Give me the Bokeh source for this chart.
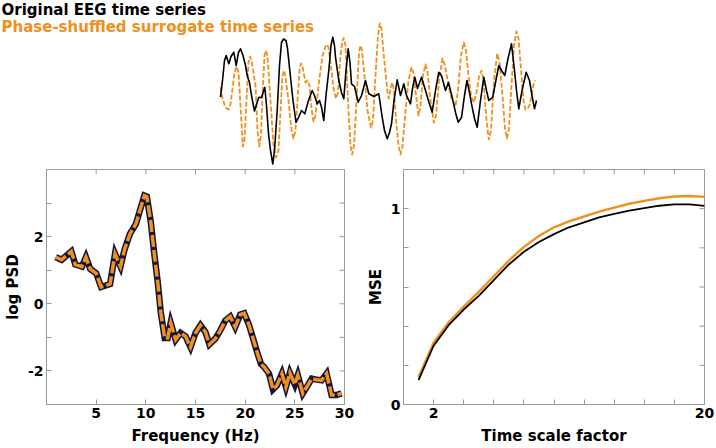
import numpy as np
from bokeh.plotting import figure
from bokeh.layouts import column, row
from bokeh.models import FixedTicker, Range1d
from bokeh.core.properties import value
from bokeh.embed import file_html
from bokeh.resources import INLINE

# ---------------- data ----------------
title_lines = ["Original EEG time series", "Phase-shuffled surrogate time series"]

# original EEG (sample index, amplitude)
eeg_t = [0, 2, 4, 5.7, 8.3, 10.5, 13.3, 15.7, 18, 20, 22.5, 25, 26.7, 29, 31, 34, 36, 38.3, 41,
         44.3, 46, 48, 50, 52.3, 54, 56.7, 59, 61, 63, 65.5, 67, 70, 72.5, 75.5, 78, 81, 84.3,
         88, 91.7, 94, 96.7, 99, 101, 103.3, 105.5, 108.3, 110.5, 112.3, 114, 115, 118.3, 121,
         123.3, 125.5, 127.7, 129.5, 131, 134, 137.7, 141, 145, 148.3, 153.3, 158.3, 161.7, 164,
         166.7, 169, 171, 173.5, 176.7, 180, 183.3, 186, 190, 192, 194.3, 197, 201, 205, 208.5,
         211.7, 215, 218.3, 221, 225, 228, 231.7, 235, 237.7, 241, 244, 246.5, 249, 251, 254,
         256.7, 260, 263.3, 266, 268.3, 272.3, 275, 278.3, 281, 284.3, 287.5, 291, 294, 296,
         298.3, 301.5, 305.7, 309, 311.5, 314, 316]
eeg_v = [-3.7, 13, 33, 38, 29.7, 37, 41.3, 28, 41, 44.7, 38, 28, 18, 11, -2, -17.5, -11, -3.7, -4,
         6.3, -12, -40, -57, -70.5, -57, -17, 28, 51, 54.5, 53, 45, 16.3, -7, -29, -24, -17, -20.3,
         -7, 3, -2, -10.3, -7, -13.7, -27, -2, 23, 48, 56.3, 48, 36.3, 13, 1,
         -5.3, 23, 44.7, 31, 9.7, 7, -8.7, -2, 13, -0.3, -3, -0.3, -23.7, -37,
         -45.3, -39, -30.3, -7, 13.7, -2, 9.7, -2, -10.3, 5, 16.3, 5, 16.3, 3, -9,
         -18.7, 3, 21.3, 18, 3, 11, -3.7, -19, -28.7, -24, -2, 13, 1, -10.3, -25,
         -33.7, -7, 16.3, 3, -7, -3.7, 11, 28, 23, 18, 35, 49.7, 23, 3,
         -15.3, 3, 21.3, 13, -2, -15.3, -7]

# phase-shuffled surrogate (sample index, amplitude)
sur_t = [0, 2, 5, 8, 10, 12, 14, 16, 18, 20, 22.3, 24, 26, 28, 29.5, 31, 33, 35, 37, 38.8, 40.5,
         42, 44, 45.5, 47, 50, 53, 55.5, 58, 60, 62, 63.5, 65, 68, 71, 73, 75, 77, 79, 80.5, 82,
         85, 87, 89, 91, 93, 95, 98, 102, 105, 106.7, 108, 111, 113, 115.5, 117.5, 120, 122,
         123.3, 125, 128, 130, 131.7, 133.5, 136, 138.5, 140, 141.5, 144, 147, 150.5, 152.5,
         155, 157.5, 159.3, 161, 163, 165, 167, 168.3, 170, 171.7, 173.5, 176, 178, 180, 182,
         185, 188, 191, 193, 195.5, 198, 200, 202.5, 205, 207, 210, 213.3, 215.5, 218.5, 222,
         224.5, 228, 231, 235, 237.5, 240.5, 243.3, 245.5, 248, 250.5, 253.3, 256, 258.5, 261,
         263, 266, 268.3, 270.5, 273.5, 276.7, 279, 282, 284.5, 286.5, 288.5, 291, 293.5, 296,
         298, 301, 303, 305, 307, 309, 311, 313, 315]
sur_v = [6.3, -5, -14, -16, -11, 5, 21, 27, 21, -12, -53, -47, -7, 31, 37, 33, 21, 8, -37, -53, -42,
         -2, 38, 43, 37, -7, -52, -64, -57, -17, 18, 23, 17, -7, -37, -45, -37, -7, 23, 30, 27,
         11, 13, 8, -15, -28, -22, 8, 38, 47, 49, 46, 23, 5, -5, 1, 38, 53,
         55.5, 48, -17, -52, -61, -52, -7, 41, 48, 43, 18, -17, -34, -27,
         18, 58, 70, 65, 41, 21, 1, -5, 5, 11, 3, -32, -52, -61, -53,
         -17, 13, 26, 21, -2, -22, -12, 18, 29, 21, -7, -29, -22, 13, 35,
         28, 8, -5, -13, 3, 38, 51, 43, 18, -2, -9, 1, 17, 23,
         13, -27, -46, -37, 13, 40, 31, -2, -35, -45, -35, 8, 48, 62,
         55, 18, -7, -16, -15, -12, -2, 9, 13]

psd_freq = [0.93, 1.52, 2.5, 2.9, 3.57, 3.97, 4.4, 5.0, 5.5, 6.4, 6.9, 7.45, 7.87, 8.4, 9.0, 9.85,
            10.1, 10.5, 10.85, 11.2, 11.5, 11.9, 12.2, 12.5, 13.0, 13.5, 14.0, 14.5, 15.0, 15.5,
            16.0, 16.4, 17.0, 17.5, 18.0, 18.5, 19.0, 19.5, 19.9, 20.4, 20.8, 21.2, 21.6, 21.9,
            22.4, 22.8, 23.2, 23.7, 24.1, 24.5, 25.0, 25.3, 25.8, 26.2, 26.7, 27.2, 27.7, 28.2,
            28.7, 29.2, 29.7]
psd_log = [1.39, 1.31, 1.56, 1.17, 1.11, 1.39, 1.04, 0.91, 0.50, 0.59, 1.49, 1.11, 1.63, 2.08,
           2.38, 3.22, 3.19, 2.43, 1.49, 0.64, -0.25, -1.02, -1.02, -0.57, -1.07, -0.87, -0.97,
           -1.29, -0.87, -0.64, -0.84, -1.21, -1.04, -0.79, -0.50, -0.38, -0.69, -0.32, -0.28,
           -0.64, -1.04, -1.44, -1.80, -1.88, -2.08, -2.55, -2.43, -2.08, -2.48, -2.06, -2.40,
           -2.13, -2.67, -2.48, -2.23, -2.26, -2.28, -2.08, -2.72, -2.72, -2.67]

scale = list(range(1, 21))
mse_orig = [0.125, 0.30, 0.405, 0.485, 0.555, 0.635, 0.715, 0.78, 0.83, 0.87, 0.905, 0.93,
            0.955, 0.973, 0.99, 1.003, 1.015, 1.022, 1.022, 1.014]
mse_surr = [0.14, 0.315, 0.42, 0.50, 0.575, 0.655, 0.735, 0.805, 0.86, 0.905, 0.935, 0.96,
            0.985, 1.005, 1.025, 1.04, 1.053, 1.062, 1.065, 1.06]

psd_xticks = [5, 10, 15, 20, 25, 30]
psd_yticks = [-2, 0, 2]
psd_yminor = [-3, -1, 1, 3]
psd_ylabels = {-2: "-2", 0: "0", 2: "2"}
mse_xticks = [2, 20]
mse_xminor = [4, 6, 8, 10, 12, 14, 16, 18]
mse_yticks = [0, 1]
mse_yminor = [0.2, 0.4, 0.6, 0.8, 1.2]

# ---------------- style ----------------
BLACK = "#000000"
ORANGE = "#f0901e"
NAVY = "#15153a"
FRAME = "#9a9a9a"
FONT = "DejaVu Sans"

W = 716
H = 448
TOP_H = 166
BOT_H = H - TOP_H


def style_axis(ax, label_standoff, title_standoff):
    ax.axis_line_color = FRAME
    ax.major_tick_line_color = FRAME
    ax.minor_tick_line_color = FRAME
    ax.major_tick_in = 5
    ax.major_tick_out = 0
    ax.minor_tick_in = 5
    ax.minor_tick_out = 0
    ax.major_label_text_font = FONT
    ax.major_label_text_font_style = "bold"
    ax.major_label_text_font_size = "14px"
    ax.major_label_text_color = BLACK
    ax.major_label_standoff = label_standoff
    ax.axis_label_text_font = FONT
    ax.axis_label_text_font_style = "bold"
    ax.axis_label_text_font_size = "15px"
    ax.axis_label_text_color = BLACK
    ax.axis_label_standoff = title_standoff


def framed(fig, xt, xm, yt, ym):
    fig.xaxis.ticker = FixedTicker(ticks=xt, minor_ticks=xm)
    fig.yaxis.ticker = FixedTicker(ticks=yt, minor_ticks=ym)
    style_axis(fig.xaxis[0], 3, 6)
    style_axis(fig.yaxis[0], 3, 3)
    fig.xgrid.visible = False
    fig.ygrid.visible = False
    fig.outline_line_color = FRAME
    fig.outline_line_alpha = 1.0
    # inward tick marks on the top and right edges (half of each dash is clipped by the frame)
    xr, yr = fig.x_range, fig.y_range
    top_x = list(xt) + list(xm)
    right_y = list(yt) + list(ym)
    fig.scatter(top_x, [yr.end] * len(top_x), marker="dash", size=10, angle=np.pi / 2,
                line_color=FRAME, line_width=1)
    fig.scatter([xr.end] * len(right_y), right_y, marker="dash", size=10,
                line_color=FRAME, line_width=1)


# ---------------- top: time series ----------------
ts_left = 220
ts_x0 = -ts_left
ts_y_top = 93
top = figure(width=W, height=TOP_H, output_backend="svg", toolbar_location=None,
             x_axis_location=None, y_axis_location=None,
             x_range=Range1d(ts_x0, ts_x0 + W), y_range=Range1d(ts_y_top - TOP_H, ts_y_top),
             min_border=0, outline_line_color=None)
top.xgrid.visible = False
top.ygrid.visible = False
top.line(sur_t, sur_v, line_color=ORANGE, line_width=1.8, line_dash="5 2", line_join="round")
top.line(eeg_t, eeg_v, line_color=BLACK, line_width=1.6, line_join="round")
top.text(x=[ts_x0 + 1, ts_x0 + 1], y=[ts_y_top, ts_y_top - 17], text=title_lines,
         text_color=[BLACK, ORANGE], text_font=value(FONT), text_font_style="bold",
         text_font_size="15px", text_baseline="top", text_align="left")

# ---------------- bottom-left: PSD ----------------
psd = figure(width=360, height=BOT_H, output_backend="svg", toolbar_location=None,
             x_range=Range1d(0, 30), y_range=Range1d(-3, 4),
             min_border_left=44, min_border_right=16, min_border_top=3, min_border_bottom=44,
             x_axis_label="Frequency (Hz)", y_axis_label="log PSD")
framed(psd, psd_xticks, [], psd_yticks, psd_yminor)
psd.yaxis.major_label_overrides = psd_ylabels
psd.line(psd_freq, psd_log, line_color=NAVY, line_width=6.5, line_join="miter")
psd.line(psd_freq, psd_log, line_color=ORANGE, line_width=3.5, line_dash="12 3", line_join="miter")

# ---------------- bottom-right: MSE ----------------
mse = figure(width=W - 360, height=BOT_H, output_backend="svg", toolbar_location=None,
             x_range=Range1d(0, 20), y_range=Range1d(0, 1.2),
             min_border_left=43, min_border_right=12, min_border_top=3, min_border_bottom=44,
             x_axis_label="Time scale factor", y_axis_label="MSE")
framed(mse, mse_xticks, mse_xminor, mse_yticks, mse_yminor)
mse.line(scale, mse_surr, line_color=ORANGE, line_width=2.4)
mse.line(scale, mse_orig, line_color=BLACK, line_width=1.8)

for f in (top, psd, mse):
    f.background_fill_color = "white"
    f.border_fill_color = "white"

layout = column(top, row(psd, mse, spacing=0), spacing=0)
open("out.html", "w").write(file_html(layout, INLINE))
